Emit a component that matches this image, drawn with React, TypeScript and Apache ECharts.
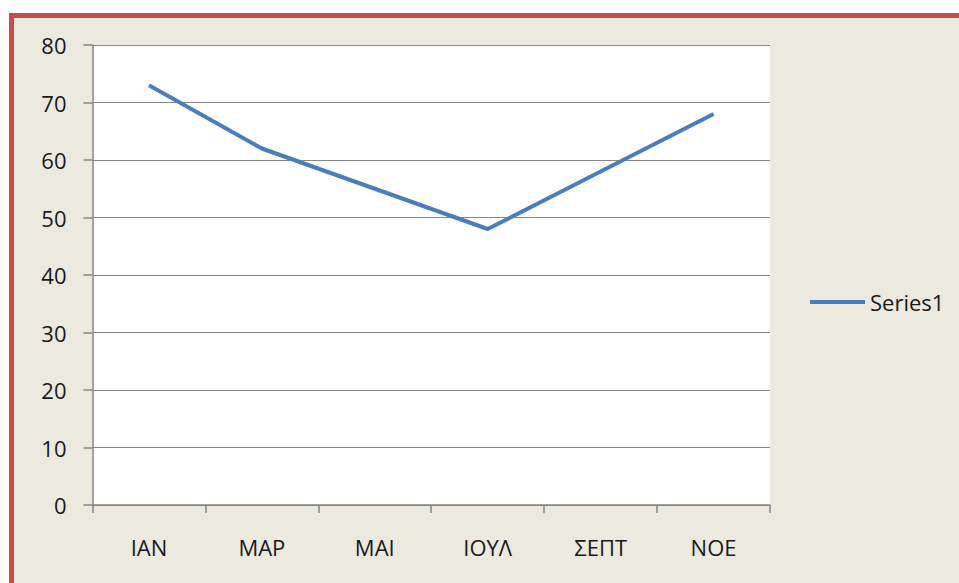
import React, { useEffect, useRef } from "react";
import * as echarts from "echarts";

const categories = ["ΙΑΝ", "ΜΑΡ", "ΜΑΙ", "ΙΟΥΛ", "ΣΕΠΤ", "ΝΟΕ"];
const series1 = [73, 62, 55, 48, 58, 68];
const seriesName = "Series1";

export default function App() {
  const ref = useRef<HTMLDivElement>(null);
  useEffect(() => {
    document.body.style.margin = "0";
    const chart = echarts.init(ref.current!, null, { renderer: "svg" });
    const font = "'Open Sans', 'Noto Sans', sans-serif";
    chart.setOption({
      animation: false,
      backgroundColor: "#ffffff",
      graphic: [
        { type: "rect", left: 9, top: 13, shape: { width: 960, height: 580 }, style: { fill: "#C0504D" }, z: -10 },
        { type: "rect", left: 14, top: 18, shape: { width: 960, height: 580 }, style: { fill: "#ECE9DF" }, z: -9 },
      ],
      grid: {
        left: 92.5,
        top: 45,
        right: 189,
        bottom: 78,
        show: true,
        backgroundColor: "#ffffff",
        borderWidth: 0,
      },
      legend: {
        left: 805,
        top: 286,
        data: [{ name: seriesName, icon: "rect" }],
        itemWidth: 55,
        itemHeight: 4,
        textStyle: { fontFamily: font, fontSize: 22, color: "#1a1a1a" },
      },
      xAxis: {
        type: "category",
        data: categories,
        boundaryGap: true,
        axisLine: { show: true, lineStyle: { color: "#868686", width: 1.5 } },
        axisTick: { show: true, length: 8, alignWithLabel: false, lineStyle: { color: "#868686", width: 1.5 } },
        axisLabel: { margin: 31, fontFamily: font, fontSize: 22, color: "#1a1a1a" },
        splitLine: { show: false },
      },
      yAxis: {
        type: "value",
        min: 0,
        max: 80,
        interval: 10,
        axisLine: { show: true, lineStyle: { color: "#868686", width: 1.5 } },
        axisTick: { show: true, length: 9, lineStyle: { color: "#868686", width: 1.5 } },
        axisLabel: { margin: 26, fontFamily: font, fontSize: 22, color: "#1a1a1a" },
        splitLine: { show: true, lineStyle: { color: "#868686", width: 1.2 } },
      },
      series: [
        {
          name: seriesName,
          type: "line",
          data: series1,
          symbol: "none",
          lineStyle: { color: "#4A7EBB", width: 4 },
          itemStyle: { color: "#4A7EBB" },
        },
      ],
    });
    return () => chart.dispose();
  }, []);
  return <div ref={ref} style={{ width: 959, height: 583, position: "absolute", left: 0, top: 0 }} />;
}
